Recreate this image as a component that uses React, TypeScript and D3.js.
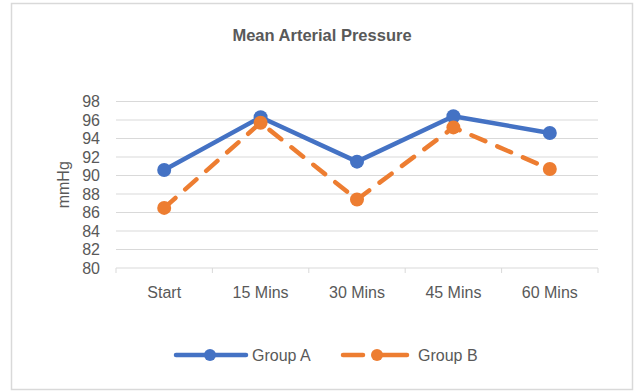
import React from "react";
import * as d3 from "d3";

const categories = ["Start", "15 Mins", "30 Mins", "45 Mins", "60 Mins"];
const groupA = [90.6, 96.3, 91.5, 96.4, 94.6];
const groupB = [86.5, 95.7, 87.4, 95.2, 90.7];
const yTicks = [80, 82, 84, 86, 88, 90, 92, 94, 96, 98];
const seriesNames = ["Group A", "Group B"];
const colors = ["#4472C4", "#ED7D31"];

const W = 634;
const H = 391;
const plot = { left: 116, right: 598, top: 101.5, bottom: 268 };
const font = "'Liberation Sans', Arial, sans-serif";
const textColor = "#595959";
const fs = 16;

export default function App() {
  const x = d3.scaleBand<string>().domain(categories).range([plot.left, plot.right]);
  const y = d3.scaleLinear().domain([80, 98]).range([plot.bottom, plot.top]);
  const line = d3
    .line<number>()
    .x((_, i) => (x(categories[i]) as number) + x.bandwidth() / 2)
    .y((d) => y(d));
  const series = [groupA, groupB];
  const boundaries = categories.map((c) => x(c) as number).concat([plot.right]);

  return (
    <svg
      width={W}
      height={H}
      style={{ position: "absolute", left: 0, top: 0, background: "#fff" }}
      fontFamily={font}
    >
      <rect x={11.5} y={3.5} width={621} height={386} fill="#fff" stroke="#d9d9d9" strokeWidth={1.5} />
      <text x={322} y={41} textAnchor="middle" fontSize={16.5} fontWeight="bold" fill={textColor}>
        Mean Arterial Pressure
      </text>
      {yTicks.map((t) => (
        <g key={t}>
          {t !== 80 && (
            <line x1={plot.left} x2={plot.right} y1={y(t)} y2={y(t)} stroke="#d9d9d9" strokeWidth={1} />
          )}
          <text x={100} y={y(t)} dy="0.35em" textAnchor="end" fontSize={fs} fill={textColor}>
            {t}
          </text>
        </g>
      ))}
      <line x1={plot.left} x2={plot.right} y1={plot.bottom} y2={plot.bottom} stroke="#d9d9d9" strokeWidth={1} />
      {boundaries.map((b, i) => (
        <line key={i} x1={b} x2={b} y1={plot.bottom} y2={plot.bottom + 5} stroke="#d9d9d9" strokeWidth={1} />
      ))}
      {categories.map((c) => (
        <text
          key={c}
          x={(x(c) as number) + x.bandwidth() / 2}
          y={292}
          dy="0.35em"
          textAnchor="middle"
          fontSize={fs}
          fill={textColor}
        >
          {c}
        </text>
      ))}
      <text
        transform={`translate(69,${(plot.top + plot.bottom) / 2}) rotate(-90)`}
        textAnchor="middle"
        fontSize={fs}
        fill={textColor}
      >
        mmHg
      </text>
      {series.map((s, si) => (
        <g key={si}>
          <path
            d={line(s) as string}
            fill="none"
            stroke={colors[si]}
            strokeWidth={4.5}
            strokeLinejoin="round"
            strokeLinecap="round"
            strokeDasharray={si === 1 ? "15 13" : undefined}
          />
          {s.map((v, i) => (
            <circle
              key={i}
              cx={(x(categories[i]) as number) + x.bandwidth() / 2}
              cy={y(v)}
              r={7}
              fill={colors[si]}
            />
          ))}
        </g>
      ))}
      {/* Legend */}
      {seriesNames.map((n, si) => {
        const x0 = si === 0 ? 176 : 343;
        const len = si === 0 ? 70 : 64;
        const ly = 355;
        return (
          <g key={n}>
            {si === 0 ? (
              <line x1={x0} x2={x0 + len} y1={ly} y2={ly} stroke={colors[si]} strokeWidth={4.5} strokeLinecap="round" />
            ) : (
              <>
                <line x1={x0} x2={x0 + 20} y1={ly} y2={ly} stroke={colors[si]} strokeWidth={4.5} strokeLinecap="round" />
                <line x1={x0 + 36} x2={x0 + len} y1={ly} y2={ly} stroke={colors[si]} strokeWidth={4.5} strokeLinecap="round" />
              </>
            )}
            <circle cx={si === 0 ? 210 : 377} cy={ly} r={6} fill={colors[si]} />
            <text x={si === 0 ? 252 : 418} y={ly} dy="0.35em" fontSize={fs} fill={textColor}>
              {n}
            </text>
          </g>
        );
      })}
    </svg>
  );
}
